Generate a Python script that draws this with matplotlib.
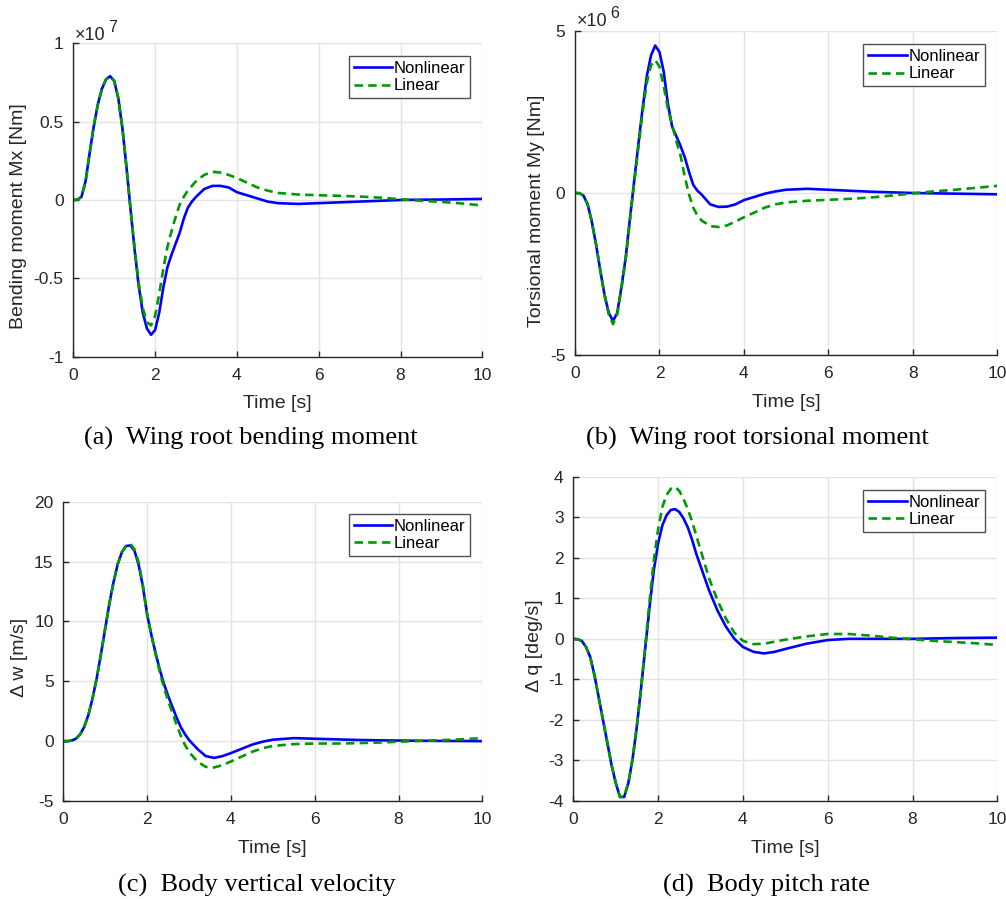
import numpy as np
import matplotlib
matplotlib.use("Agg")
import matplotlib.pyplot as plt

# ---- data ----
t = [0, 0.1, 0.2, 0.3, 0.4, 0.5, 0.6, 0.7, 0.8, 0.9, 1.0, 1.1, 1.2, 1.3, 1.4,
     1.5, 1.6, 1.7, 1.8, 1.9, 2.0, 2.1, 2.2, 2.3, 2.4, 2.5, 2.6, 2.7, 2.8, 2.9,
     3.0, 3.2, 3.4, 3.6, 3.8, 4.0, 4.25, 4.5, 4.75, 5.0, 5.5, 6.0, 6.5, 7.0,
     7.5, 8.0, 8.5, 9.0, 9.5, 10.0]

# (a) wing root bending moment, x 1e7 Nm
mx_nonlin = [0, 0.002, 0.02, 0.12, 0.30, 0.47, 0.61, 0.71, 0.77, 0.79, 0.76,
             0.65, 0.46, 0.21, -0.06, -0.32, -0.55, -0.72, -0.82, -0.86, -0.83,
             -0.72, -0.56, -0.43, -0.35, -0.28, -0.21, -0.12, -0.05, -0.01,
             0.02, 0.07, 0.09, 0.09, 0.08, 0.05, 0.03, 0.01, -0.01, -0.02,
             -0.025, -0.02, -0.015, -0.01, -0.005, 0.0, 0.002, 0.003, 0.005,
             0.007]
mx_lin = [0, 0.002, 0.02, 0.12, 0.30, 0.47, 0.61, 0.71, 0.77, 0.79, 0.76,
          0.65, 0.46, 0.21, -0.06, -0.31, -0.53, -0.69, -0.78, -0.80, -0.74,
          -0.60, -0.44, -0.30, -0.20, -0.11, -0.03, 0.02, 0.06, 0.09,
          0.12, 0.16, 0.18, 0.175, 0.16, 0.14, 0.11, 0.08, 0.06, 0.045,
          0.035, 0.03, 0.027, 0.022, 0.015, 0.005, -0.005, -0.012, -0.022,
          -0.035]

# (b) wing root torsional moment, x 1e6 Nm
my_nonlin = [0, -0.005, -0.08, -0.35, -0.9, -1.6, -2.4, -3.15, -3.7, -3.95,
             -3.7, -2.9, -2.0, -0.8, 0.35, 1.5, 2.6, 3.6, 4.25, 4.55, 4.35,
             3.75, 2.75, 2.05, 1.75, 1.45, 1.1, 0.65, 0.25, 0.07,
             -0.05, -0.35, -0.43, -0.42, -0.35, -0.22, -0.12, -0.02, 0.05,
             0.1, 0.13, 0.1, 0.07, 0.04, 0.02, 0.0, -0.01, -0.02, -0.03, -0.04]
my_lin = [0, -0.005, -0.08, -0.35, -0.9, -1.6, -2.4, -3.15, -3.75, -4.05,
          -3.75, -2.95, -2.05, -0.85, 0.3, 1.4, 2.5, 3.4, 3.95, 4.1, 3.9,
          3.3, 2.6, 2.1, 1.6, 1.15, 0.5, -0.05, -0.45, -0.7,
          -0.85, -1.02, -1.05, -1.0, -0.88, -0.75, -0.6, -0.45, -0.35,
          -0.29, -0.24, -0.21, -0.18, -0.14, -0.08, -0.01, 0.05, 0.1, 0.16,
          0.22]

# (c) body vertical velocity, m/s
dw_nonlin = [0, 0.0, 0.05, 0.2, 0.55, 1.2, 2.2, 3.6, 5.3, 7.3, 9.4, 11.5,
             13.3, 14.8, 15.8, 16.3, 16.35, 15.9, 14.7, 12.9, 10.6, 8.9,
             7.4, 6.0, 4.8, 3.8, 2.9, 2.0, 1.2, 0.6, 0.1, -0.65, -1.25,
             -1.4, -1.25, -1.0, -0.65, -0.3, -0.05, 0.12, 0.25, 0.2, 0.15,
             0.1, 0.07, 0.05, 0.03, 0.02, 0.01, 0.0]
dw_lin = [0, 0.0, 0.05, 0.2, 0.55, 1.2, 2.2, 3.6, 5.3, 7.3, 9.4, 11.5,
          13.3, 14.8, 15.8, 16.3, 16.5, 16.0, 14.9, 13.0, 10.6, 8.9, 7.3,
          5.8, 4.5, 3.4, 2.4, 1.4, 0.5, -0.3, -0.9, -1.7, -2.15, -2.2,
          -2.0, -1.7, -1.3, -0.9, -0.6, -0.4, -0.25, -0.2, -0.2, -0.17,
          -0.12, -0.05, 0.02, 0.08, 0.15, 0.25]

# (d) body pitch rate, deg/s
dq_nonlin = [0, -0.01, -0.05, -0.2, -0.45, -0.9, -1.45, -2.0, -2.55, -3.1,
             -3.55, -3.9, -3.9, -3.55, -2.95, -2.15, -1.2, -0.2, 0.8, 1.7,
             2.35, 2.8, 3.05, 3.18, 3.2, 3.13, 2.97, 2.75, 2.45, 2.1, 1.8,
             1.2, 0.7, 0.3, 0.0, -0.2, -0.32, -0.36, -0.32, -0.25, -0.12,
             -0.03, 0.0, 0.0, 0.0, 0.0, 0.01, 0.02, 0.025, 0.03]
dq_lin = [0, -0.01, -0.05, -0.2, -0.45, -0.9, -1.45, -2.0, -2.55, -3.1,
          -3.55, -3.9, -3.9, -3.55, -2.95, -2.15, -1.2, -0.15, 0.95, 1.95,
          2.7, 3.25, 3.55, 3.7, 3.75, 3.65, 3.45, 3.2, 2.9, 2.55, 2.2,
          1.5, 0.95, 0.5, 0.15, -0.05, -0.13, -0.12, -0.07, -0.02, 0.06,
          0.12, 0.12, 0.08, 0.03, -0.01, -0.05, -0.08, -0.11, -0.15]

labels = ["Nonlinear", "Linear"]

SANS = "Liberation Sans"
SERIF = "Liberation Serif"
W, H = 1006, 899
DARK = "#262626"
GRID = "#e3e3e3"
BLUE = (0, 0, 1)
GREEN = (0, 0.6, 0)
TICK_FS = 12.5
LABEL_FS = 14


def make_axes(fig, left, top, right, bottom):
    return fig.add_axes([left / W, 1 - bottom / H, (right - left) / W, (bottom - top) / H])


def style(ax, yticks, yticklabels, ylim, ylabel, ylab_x, ylab_y):
    ax.set_xlim(0, 10)
    ax.set_ylim(*ylim)
    ax.set_xticks([0, 2, 4, 6, 8, 10])
    ax.set_xticklabels(["0", "2", "4", "6", "8", "10"])
    ax.set_yticks(yticks)
    ax.set_yticklabels(yticklabels)
    ax.grid(True, color=GRID, linewidth=1.0)
    ax.set_axisbelow(True)
    for s in ["top", "right"]:
        ax.spines[s].set_visible(False)
    for s in ["left", "bottom"]:
        ax.spines[s].set_color(DARK)
        ax.spines[s].set_linewidth(1.0)
    ax.tick_params(direction="in", length=4, width=1.0, color=DARK,
                   labelcolor=DARK, labelsize=TICK_FS)
    ax.tick_params(axis="y", pad=7)
    ax.tick_params(axis="x", pad=8)
    for lab in ax.get_xticklabels() + ax.get_yticklabels():
        lab.set_fontfamily(SANS)
    ax.set_xlabel("Time [s]", fontsize=LABEL_FS, family=SANS, color=DARK, labelpad=9)
    ax.set_ylabel(ylabel, fontsize=LABEL_FS, family=SANS, color=DARK)
    ax.yaxis.set_label_coords(ylab_x, ylab_y)
    leg = ax.legend(labels, loc="upper right", bbox_to_anchor=(0.971, 0.96),
                    prop={"family": SANS, "size": 12}, frameon=True,
                    fancybox=False, borderpad=0.3, labelspacing=0.15,
                    handlelength=2.3, handletextpad=0.1, borderaxespad=0)
    leg.get_frame().set_edgecolor(DARK)
    leg.get_frame().set_linewidth(1.0)


def exponent(ax, base_xy, power):
    # MATLAB-style "x10^n" multiplier above the y axis, pixel coordinates
    x, y = base_xy
    fig = ax.figure
    fig.text(x / W, 1 - y / H, "\u00d710", fontsize=13, family=SANS,
             color=DARK, ha="left", va="baseline")
    fig.text((x + 33) / W, 1 - (y - 8) / H, power, fontsize=11.5, family=SANS,
             color=DARK, ha="left", va="baseline")


def plot_pair(ax, y_nl, y_lin):
    ax.plot(t, y_nl, color=BLUE, linewidth=1.9)
    ax.plot(t, y_lin, color=GREEN, linewidth=1.9, linestyle=(0, (3.2, 2.0)))


fig = plt.figure(figsize=(W / 100, H / 100), dpi=100)

# (a)
ax_a = make_axes(fig, 73.3, 43.3, 482.3, 356.7)
plot_pair(ax_a, mx_nonlin, mx_lin)
style(ax_a, [-1, -0.5, 0, 0.5, 1], ["-1", "-0.5", "0", "0.5", "1"], (-1, 1),
      "Bending moment Mx [Nm]", -0.112, 0.45)
exponent(ax_a, (75, 40), "7")

# (b)
ax_b = make_axes(fig, 575, 31, 997.3, 355)
plot_pair(ax_b, my_nonlin, my_lin)
style(ax_b, [-5, 0, 5], ["-5", "0", "5"], (-5, 5),
      "Torsional moment My [Nm]", -0.071, 0.445)
exponent(ax_b, (577, 26), "6")

# (c)
ax_c = make_axes(fig, 63.3, 501.7, 482.3, 801)
plot_pair(ax_c, dw_nonlin, dw_lin)
style(ax_c, [-5, 0, 5, 10, 15, 20], ["-5", "0", "5", "10", "15", "20"],
      (-5, 20), "\u0394 w [m/s]", -0.084, 0.48)

# (d)
ax_d = make_axes(fig, 573.3, 476.7, 997.3, 801)
plot_pair(ax_d, dq_nonlin, dq_lin)
style(ax_d, [-4, -3, -2, -1, 0, 1, 2, 3, 4],
      ["-4", "-3", "-2", "-1", "0", "1", "2", "3", "4"], (-4, 4),
      "\u0394 q [deg/s]", -0.071, 0.48)

# captions
caps = [("(a)  Wing root bending moment", 251, 438),
        ("(b)  Wing root torsional moment", 757, 438),
        ("(c)  Body vertical velocity", 257, 885),
        ("(d)  Body pitch rate", 766, 885)]
for txt, cx, cy in caps:
    fig.text(cx / W, 1 - cy / H, txt, fontsize=19, family=SERIF,
             ha="center", va="center", color="black")

fig.savefig("out.png", dpi=100)
